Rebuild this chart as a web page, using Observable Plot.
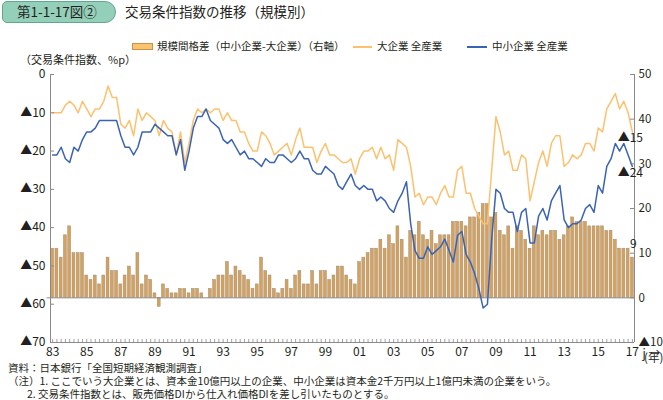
<!DOCTYPE html>
<html><head><meta charset="utf-8">
<script src="https://cdn.jsdelivr.net/npm/d3@7"></script>
<script src="https://cdn.jsdelivr.net/npm/@observablehq/plot@0.6"></script>
<style>
body{margin:0;background:#fff;font-family:"Noto Sans CJK JP",sans-serif;color:#231f20;}
#wrap{position:relative;width:663px;height:400px;overflow:hidden;background:#fff;}
.abs{position:absolute;white-space:nowrap;line-height:1;}
#chart{position:absolute;left:0;top:60px;}
</style></head><body><div id="wrap">
<div class="abs" style="left:2px;top:1px;width:112px;height:20px;border:1.5px solid #5ea98e;background:#94cfb9;border-radius:5px 11px 11px 5px;"></div>
<div class="abs" style="left:17px;top:5px;font-size:13.5px;">第1-1-17図②</div>
<div class="abs" style="left:125px;top:5px;font-size:13.5px;">交易条件指数の推移（規模別）</div>
<div class="abs" style="left:132px;top:43px;width:19px;height:5px;background:#f9c36f;border:1px solid #c8924a;"></div>
<div class="abs" style="left:157px;top:41px;font-size:10.5px;">規模間格差（中小企業-大企業）（右軸）</div>
<div class="abs" style="left:353px;top:46px;width:19px;height:1.5px;background:#fcc16e;"></div>
<div class="abs" style="left:377px;top:41px;font-size:10.5px;">大企業 全産業</div>
<div class="abs" style="left:467px;top:46px;width:20px;height:1.5px;background:#3b63b3;"></div>
<div class="abs" style="left:492px;top:41px;font-size:10.5px;">中小企業 全産業</div>
<div class="abs" style="left:20px;top:54px;font-size:11px;">（交易条件指数、%p）</div>
<div id="chart"></div>
<div class="abs" style="left:644px;top:352px;font-size:11.5px;font-family:'Liberation Sans Narrow','Noto Sans CJK JP',sans-serif;">(年)</div>
<div class="abs" style="left:8px;top:363px;font-size:10.5px;">資料：日本銀行「全国短期経済観測調査」</div>
<div class="abs" style="left:8px;top:376px;font-size:10.5px;">（注）1. ここでいう大企業とは、資本金10億円以上の企業、中小企業は資本金2千万円以上1億円未満の企業をいう。</div>
<div class="abs" style="left:27px;top:389px;font-size:10.5px;">2. 交易条件指数とは、販売価格DIから仕入れ価格DIを差し引いたものとする。</div>
</div>
<script>
// Quarterly data, 1983Q1 .. 2017Q1
const largeFirms = [
 -10,-10,-10,-8,-7,-8,-10,-7,-9,-11,
 -9,-9,-7,-3,-6,-6,-13,-14,-12,-16,
 -9,-12,-10,-11,-12,-16,-12,-14,-15,-21,
 -15,-23,-18,-12,-9,-10,-9,-10,-9,-9,
 -12,-10,-12,-12,-15,-15,-18,-20,-20,-15,
 -16,-18,-21,-20,-19,-18,-21,-17,-14,-19,
 -19,-19,-23,-20,-18,-21,-21,-22,-23,-23,
 -22,-26,-22,-20,-20,-19,-22,-19,-22,-21,
 -25,-17,-18,-19,-24,-32,-31,-34,-32,-32,
 -34,-31,-29,-32,-32,-25,-24,-31,-31,-35,
 -37,-39,-39,-25,-11,-15,-21,-20,-25,-25,
 -21,-22,-33,-28,-23,-20,-24,-18,-16,-16,
 -24,-23,-21,-22,-21,-18,-18,-20,-14,-15,
 -9,-7,-5,-9,-7,-10,-15
];
const smallFirms = [
 -21,-21,-19,-22,-23,-19,-20,-17,-15,-15,
 -14,-12,-12,-12,-12,-12,-16,-19,-19,-21,
 -19,-15,-15,-15,-13,-14,-15,-16,-16,-21,
 -17,-25,-20,-14,-11,-11,-9,-12,-13,-14,
 -17,-18,-17,-19,-21,-20,-22,-22,-23,-24,
 -22,-23,-23,-21,-21,-22,-23,-22,-20,-22,
 -22,-25,-26,-26,-24,-25,-26,-29,-30,-28,
 -26,-29,-30,-29,-30,-30,-33,-32,-33,-35,
 -36,-33,-31,-28,-39,-46,-48,-48,-45,-47,
 -46,-45,-43,-46,-49,-42,-41,-47,-49,-52,
 -56,-61,-60,-43,-30,-31,-35,-36,-36,-41,
 -36,-35,-44,-44,-37,-35,-38,-33,-31,-29,
 -38,-40,-39,-39,-38,-35,-34,-36,-29,-31,
 -24,-22,-18,-20,-18,-21,-24
];
const sizeGap = [
 11,11,9,14,16,10,10,10,5,4,
 5,3,5,9,6,6,3,5,7,5,
 10,3,5,4,1,-2,3,2,1,1,
 2,2,1,2,2,1,0,2,4,5,
 5,8,5,7,6,5,4,2,3,9,
 6,5,2,1,2,4,2,5,6,3,
 3,6,3,6,6,4,5,7,7,5,
 4,3,8,9,10,11,11,13,11,14,
 12,16,13,9,15,14,17,14,13,15,
 12,14,14,14,17,17,17,16,18,18,
 19,21,21,18,19,15,14,16,11,16,
 15,13,11,16,14,15,14,15,15,13,
 14,16,18,17,17,17,16,16,16,16,
 15,15,13,11,11,11,9
];
const tickLabels = ["83","85","87","89","91","93","95","97","99","01","03","05","07","09","11","13","15","17"];
const leftTicks = [0,-10,-20,-30,-40,-50,-60,-70];
const rightTicks = [50,40,30,20,10,0,-10];

const rows = largeFirms.map((v, j) => ({j, large: v, small: smallFirms[j], gap: sizeGap[j]}));
const n = rows.length;
const last = rows[n - 1];
const toLeft = r => -70 + (r + 10) * 70 / 60;
const fromLeft = v => Math.round((v + 70) * 60 / 70 - 10);
const fmt = v => v < 0 ? "▲" + (-v) : String(v);
const xTicks = tickLabels.map((_, k) => k * 8);
const axisColor = "#8a8a8a";
const font = "'Liberation Sans Narrow','Noto Sans CJK JP',sans-serif";

const chart = Plot.plot({
  width: 663, height: 300,
  marginLeft: 50, marginRight: 29, marginTop: 14, marginBottom: 18,
  style: {fontFamily: font, fontSize: "12px", color: "#231f20", background: "transparent", overflow: "visible"},
  x: {type: "linear", domain: [-0.5, n - 0.5], axis: null},
  y: {domain: [-70, 0], axis: null},
  marks: [
    Plot.rect(rows, {x1: d => d.j - 0.34, x2: d => d.j + 0.34, y1: toLeft(0), y2: d => toLeft(d.gap), fill: "#d6a25b", stroke: "#9d8c78", strokeWidth: 0.5}),
    Plot.ruleY([toLeft(0)], {x1: -1.3, x2: n - 0.5, stroke: axisColor, strokeWidth: 1}),
    Plot.line(rows, {x: "j", y: "large", stroke: "#fcc16e", strokeWidth: 1.5}),
    Plot.line(rows, {x: "j", y: "small", stroke: "#3b63b3", strokeWidth: 1.5}),
    Plot.ruleX([-0.5], {y1: -70, y2: 0, stroke: axisColor}),
    Plot.ruleX([n - 0.5], {y1: -70, y2: 0, stroke: axisColor}),
    Plot.ruleY([-70], {x1: -0.5, x2: n - 0.5, stroke: axisColor}),
    Plot.ruleY(leftTicks, {x1: -0.5, x2: 0.45, stroke: axisColor}),
    Plot.ruleY(rightTicks.map(toLeft), {x1: n - 1.45, x2: n - 0.5, stroke: axisColor}),
    Plot.ruleX(rows, {x: "j", y1: -70, y2: -69.2, stroke: axisColor, strokeWidth: 0.8}),
    Plot.axisY(leftTicks, {anchor: "left", tickSize: 0, tickPadding: 5, tickFormat: fmt, fontSize: 12}),
    Plot.axisY(rightTicks.map(toLeft), {anchor: "right", tickSize: 0, tickPadding: 4, tickFormat: d => fmt(fromLeft(d)), fontSize: 11.5}),
    Plot.axisX(xTicks, {anchor: "bottom", tickSize: 0, tickPadding: 5, tickFormat: (d, i) => tickLabels[i], fontSize: 12}),
    Plot.text([last], {x: "j", y: "large", text: d => fmt(d.large), dy: 6, dx: -2, fontSize: 12, fill: "#231f20"}),
    Plot.text([last], {x: "j", y: "small", text: d => fmt(d.small), dy: 7, dx: -2, fontSize: 12, fill: "#231f20"}),
    Plot.text([last], {x: "j", y: d => toLeft(d.gap), text: d => String(d.gap), dy: -13, dx: 1, fontSize: 12, fill: "#231f20"})
  ]
});
document.getElementById("chart").appendChild(chart);
</script>
</body></html>
